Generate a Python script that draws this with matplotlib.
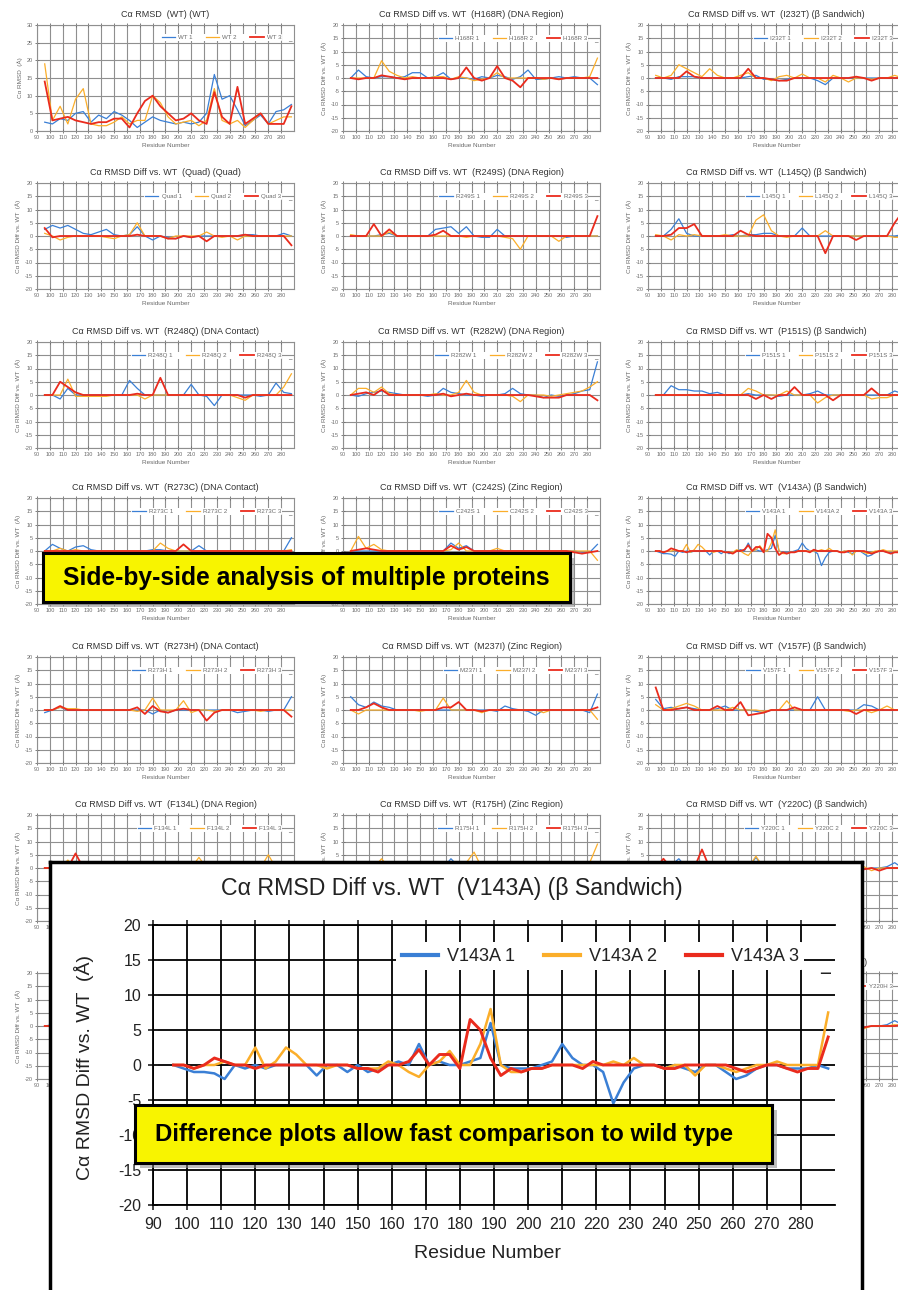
import matplotlib
matplotlib.use('Agg')
import matplotlib.pyplot as plt
from matplotlib.patches import Rectangle

plt.rcParams['axes.unicode_minus'] = False

# ---------------- data ----------------
res_small = list(range(96, 289, 6))   # 33 residues
res_big = list(range(96, 289, 3))     # 65 residues
xticks = list(range(90, 281, 10))

WT_1 = [2.5,2.0,3.5,3.0,5.0,5.5,2.5,4.5,3.5,5.5,4.5,3.0,1.0,2.5,4.0,3.0,2.5,2.0,2.5,2.0,2.5,5.0,16.0,9.0,10.0,6.0,1.5,3.0,4.5,2.0,5.5,6.0,7.5]
WT_2 = [19.0,3.0,7.0,2.0,9.0,12.0,2.0,1.5,1.5,2.5,4.0,2.0,3.0,3.0,10.0,8.0,4.0,2.0,2.5,3.0,1.5,3.0,12.0,3.0,2.0,3.0,1.0,3.0,5.0,2.0,3.0,4.0,4.0]
WT_3 = [14.0,3.0,3.5,4.0,3.0,2.5,2.0,2.5,2.5,3.5,3.5,1.0,5.0,8.5,10.0,7.0,5.0,3.0,3.5,5.0,3.0,2.0,11.0,4.0,2.0,12.5,2.0,3.5,5.0,2.0,2.0,2.0,7.0]

H168R_1 = [0,3,0.5,0,0.5,0.5,0,0.5,2,2,0,0.5,2,-0.5,0,0,-0.5,0.5,0,1,0.5,-0.5,0.5,3,-0.5,-0.5,0,0.5,0,0.5,0,0,-2.5]
H168R_2 = [0,0,0,0,6.5,2.5,1,0,0.5,0,0,0.5,0.5,-0.5,0.5,0,-1,-0.5,0,2,0,0,0,0,0,-0.5,0,-0.5,0,0,0,0.5,7.5]
H168R_3 = [0,-0.5,0,0,1,0.5,0,-0.5,0,0,0,0,0,-0.5,0,4,0,-1,0,4.5,0,-1,-3.5,0,0,0,0,-0.5,0,0,0,0,0]

I232T_1 = [0,0,-0.5,0.5,0.5,0.5,0,0,0,0,0,0,0.5,1,-0.5,-0.5,-1,-0.5,0,0,0,-1,-2.5,0,0,0,0,0,0,0,0,0,0]
I232T_2 = [1,0,1,5,3.5,2,0.5,3.5,1,0,0,1,2,0,0,-1,0.5,1,0,1.5,0,0,-1.5,1,0,-1.5,0,0,-0.5,0,0,1,0]
I232T_3 = [0,0,0,0,2.5,0.5,0,0,0,0,0,0,3.5,0,0,-0.5,-1,-1,0,0,0,0,0,0,0,0,0.5,0,-1,0,0,0,0]

Quad_1 = [2.5,4,3,4,2.5,1,0.5,1.5,2.5,0.5,0,0.5,3.5,0,-1.5,0,-0.5,-1,0,-0.5,0,0,0,0,0,0,0.5,0.5,0,0,0,1,0]
Quad_2 = [1,0,-1.5,-0.5,0,0,0,0,-0.5,-1,0,0.5,5,0,0,0,-1,0,0,0,0,1.5,0,-0.5,0,-1.5,0,0,0,0,0,0,0]
Quad_3 = [3,-0.5,0,0,0,0,0,0,0,0,0,0,0.5,0,0,0,-1,-1,0,-0.5,0,-2,0,0,0,0,0.5,0,0,0,0,0,-3.5]

R249S_1 = [0,0,0,0,0.5,1,0,0,0,0,0,2.5,3,3.5,1,3.5,0,-0.5,-0.5,2.5,0,0,0,0,0,0,0,0,-0.5,0,0,0,0]
R249S_2 = [0.5,0,0,0,0,1.5,0,0,0,0,0,0,0,0,0,-0.5,0,0,0,0,-0.5,-1,-5,0,0,0,0,-2,0,0,0,0,0]
R249S_3 = [0,0,0,4.5,0,2.5,0,0,0,0,0,0.5,2,0,0,0,0,0,0,0,0,0,0,0,0,0,0,0,0,0,0,0,7.5]

L145Q_1 = [0,0,2.5,6.5,1,0,0,0,0,0,0.5,0,0.5,0.5,1,1,0,0,0,3,0,0,0,0,0,0,0,0,0,0,0,0,0.5]
L145Q_2 = [0.5,0,-1.5,0.5,0,0.5,0,0,0,0.5,0,0,0,6,8,2,0,-0.5,0,0,0,0,2,0,0,0,0,0,0,0,0,-0.5,-0.5]
L145Q_3 = [0,0,0.5,3,3,4.5,0,0,0,0,0,2,0.5,0,0,0,0,0,0,0,0,0,-6.5,0,0,0,-1.5,0,0,0,0,5,9]

R248Q_1 = [0,0,-1.5,2.5,0,0,0,0,0,0,0,5.5,2.5,0,0,0,0,0,0,4,0,-0.5,-4,0,0,0,0,0,-0.5,0,4.5,1,0.5]
R248Q_2 = [0,0,0,6,-0.5,-0.5,-0.5,-0.5,-0.5,0,0,0,0,-1.5,0,0,0,0,0,0,0,0,0,0,0,-1,-2,0,0,0,0,3,8]
R248Q_3 = [0,0,5,3,1,0,0,0,0,0,0,0,0.5,0,0,6.5,0,0,0,0,0,0,0,0,0,0,-1,0,0,0,0,0,0]

R282W_1 = [0,-0.5,0.5,1,1.5,1,0.5,0,0,0,-0.5,0,2.5,1,0.5,0,0,-0.5,0,0,0.5,2.5,0.5,0,0,-1,0,-0.5,0,0.5,1.5,2,12.5]
R282W_2 = [0,2.5,2.5,1,3,0.5,0,0,0,0,0,0.5,0,0,1,5.5,1,0,0,0,0,-0.5,-2.5,0,0,0,-0.5,0,0.5,1,1.5,3,5]
R282W_3 = [0,0.5,1,0,2,0,0,0,0,0,0,0,0.5,-0.5,0,0.5,0,0,0,0,0,0,0,0,-0.5,-1,-1,-1,0,0,0,0,-2]

P151S_1 = [0,0,3.5,2,2,1.5,1.5,0.5,1,0,0,0,0.5,0,0,0,-0.5,0,0,0,0.5,1.5,0,0,0,0,0,0,0,0,0,1.5,0.5]
P151S_2 = [0,0,0,0,0,0,0,0,0,0,0,0,2.5,1.5,0,0,0,1.5,0,0,0,-3,-1,0,0,0,0,0,-1.5,-1,-1,0,0]
P151S_3 = [0,0,0,0,0,0,0,0,0,0,0,0,0,-1.5,0,-1.5,0,0,3,0,0,0,0,-2,0,0,0,0,2.5,0,0,0,0]

R273C_1 = [0,2.5,1,0,1.5,2,0.5,0,0,0,0,0,0,0,0.5,0.5,0,0,0,0,2,0,0,0,0,0,0,0,0,0,0,0,5]
R273C_2 = [0,0,1,0,0.5,0,0,0,0,0,0,0,0,0,0,3,1,0,0,0,0,0,0,0,0,0,0,0,0,0,0,0,0.5]
R273C_3 = [0,0,0,0,0,0,0,0,0,0,0,0,0,0,0,0,0,0,2.5,0,0,0,0,0,0,0,0,0,0,0,0,0,0]

C242S_1 = [0,0,0,0,0,0,0,0,0,0,0,0,0,3,1,2,0,0,0,0,0,0,0,0,0,0,0,0,0,0,-0.5,-0.5,2.5]
C242S_2 = [0,5.5,1,2.5,0.5,0,0,0,0,0,0,0,0,0.5,3,0,0,0,0,1,0,0,0,0,0,0,0,0,0,0,0,0,-3.5]
C242S_3 = [0,0.5,1,0.5,0,0,0,0,0,0,0,0,0,2,0.5,1.5,0,0,0,0,0,0,0,0,0,0,0,0,0,-0.5,-1,-0.5,0]

R273H_1 = [-1,0,1,0,0,0,0,0,0,0,0,0,0,0,-1.5,0,-1,0,0,0,0,0,0,0,0,-1,-0.5,0,0,-0.5,0,0,5]
R273H_2 = [0,0,1,0.5,0.5,0,0,0,0,0,0,0,-0.5,0,4.5,0,0,0,3.5,-1,0,0,-0.5,0,0,0,0,0,-0.5,0,0,0,0]
R273H_3 = [0,0,1.5,0,0,0,0,0,0,0,0,0,1,-1.5,1.5,-0.5,-1,0,0.5,0,0,-4,-1,0,0,0,0,0,0,0,0,0,-2.5]

M237I_1 = [5,2,1,3,1.5,1,0,0,0,0,0,0,0,0,0,0,0,0,0,-0.5,1.5,0.5,0,-0.5,-2,0,0,0,0,0,0,-1,6]
M237I_2 = [0,-1.5,0,0,0,0,0,0,0,-0.5,0,0,4.5,0,0,0,0,-1,0,0,0,0,0,0,0,-1,0,0,0,0,0,0,-3.5]
M237I_3 = [0,0,1,2.5,1,0,0,0,0,0,0,0,1,1,3,0,0,-0.5,0,0,0,0,0,0,0,0,0,0,0,0,0,0,1]

V157F_1 = [4,0.5,1,0.5,1,0.5,0,0,0.5,1.5,0,0,0,-0.5,-1,0,0,0,0,0,0,5,0,0,0,0,0,2,1.5,0,0,0,0]
V157F_2 = [2,0,0.5,1.5,2.5,1.5,0,0,0,0,1,0,0,0,-0.5,0,0,3.5,0,0,0,0,0,0,0,-0.5,0,0,-1,0,1.5,0,0]
V157F_3 = [8.5,0,0,0.5,1,0,0,0,1.5,0,0,3,-2,-1.5,-1,0,0,0,1,0,0,0,0,0,0,0,-1.5,0,0,0,0,0,0]

F134L_1 = [0,0,0,0,0,0,0,0,0,0,0,0,0,1.5,2.5,0,0,0,0,0,0,0,0,0,0,0,2,0,0,0,0,0,0]
F134L_2 = [0,0,0,3,0,0,0,0,0,0,0,0,0,0,0,0,0,0,0,0,4,0,0,0,0,0,0,0,0,5,0,0,0]
F134L_3 = [0,0,0,0,5.5,0,2,0,0,0,0,0,0,0,0,0,0,0,0,0,0,0,0,0,0,0,0,0,0,0,0,0,0]

R175H_1 = [0,0,0,0,0,0,0,0,0,0,0,0,0,3.5,0.5,0,0,0,0,0,0,0,0,0,0,0,0,0,0,0,0,0,1]
R175H_2 = [0,0,0,0,3.5,0,0,0,0,0,0,0,0,0,0,2,6,0,0,0,0,0,0,0,0,0,0,0,0,0,0,2,9]
R175H_3 = [0,0,0,0,0,0,0,0,0,0,0,0,0,0,0,0,0,0,0,0,0,0,1,0,0,0,0,0,0,0,0,0,0]

Y220C_1 = [0,0,1,3.5,0,0,0,0,0,0,0,0,0,4,0,0,0,0,0,0,0,0,0,0,0,0,0,-0.5,0,0,0.5,2,0]
Y220C_2 = [0,0,0,0,0,0,0,0,0,0,0,0,0,4.5,0,0,0,0,0,0,0,0,0,0,0,0,0,0.5,-1,0,0,0,0]
Y220C_3 = [0,3.5,0,0,0,0,7,0,0,0,0,1,0,0,0,0,0,0,0,0,0,0,0,0,0,0,0,-0.5,0,-1,0,0,0]

G245S_1 = [0,0.5,0,0,0,1,0,0,0,0,0,0,0,0,0,0,0,0,0,0,0,0,0,0,0,0,0,0,0,0,0,0,0]
G245S_2 = [0,0,0.5,0,0,0,0,0,0,0,0,0,0,0,0,0,0,0,0,0,0,0,0,0,0,0,0,0,0,0,0,0,0]
G245S_3 = [0,0,0,0.5,0,0,0,0,0,0,0,0,0,0,0,0,0,0,0,0,0,0,0,0,0,0,0,0,0,0,0,0,0]

R248W_1 = [0,0,0,0,1,0,0,0,0,0,0,0,0,0,0,0,0,0,0,0,0,0,0,0,0,0,0,0,0,0,0,0,0]
R248W_2 = [0,0,0,0,0,0,0,0,0,0,0,0,0,0,0,0,0,0,0,0,0,0,0,0,0,0,0,0,0,0,0,0,0]
R248W_3 = [0,0,0,0,0,0,0,0,0,0,0,0,0,0,0,0,0,0,0,0,0,0,0,0,0,0,0,0,0,0,0,0,0]

Y220H_1 = [0,0,0,0,0,0,0,0,0,0,0,0,0,0,0,0,0,0,0,0,0,0,0,0,0,0,0,-0.5,0,0,0.5,2,0.5]
Y220H_2 = [0,0,0,0,0,0,0,0,0,0,0,0,0,0,0,0,0,0,0,0,0,0,0,0,0,0,0,-1,0,0,0,0.5,0]
Y220H_3 = [0,0,0,0,0,0,0,0,0,0,0,0,0,0,0,0,0,0,0,0,0,0,0,0,0,0,-0.5,-0.5,0,0,0,0,0.5]

V143A_1 = [0,-0.5,-1,-1,-1.2,-2,0,-0.5,0,-0.5,0,0,0,0,-1.5,0,0,-1,0,-1,-0.5,0,0.5,0,3,0,0.5,0,0,0.5,1,6,0,-0.5,-0.5,-0.5,0,0.5,3,1,0,0,-1,-5.5,-2.5,-0.5,0,0,-0.5,0,-0.5,-1,0,0,-1,-2,-1.5,-0.5,0,0,-0.5,-0.5,-0.5,0,-0.5]
V143A_2 = [0,0,-0.5,0,0,0.5,0,0,2.5,-0.5,0.5,2.5,1.5,0,0,-0.5,0,0,-0.5,-0.5,-0.5,0.5,0,-1,-1.7,0,0.5,2,0,0,3,8,0,-1,-1,-0.5,-0.5,0,0,0,0,0,0,0.5,0,1,0,0,-0.5,0,0,-1.5,0,0,-0.5,-1,-0.5,0,0,0.5,0,0,0,0,7.5]
V143A_3 = [0,0,-0.5,0,1,0.5,0,0,-0.5,0,0,0,0,0,0,0,0,0,-0.5,-0.5,-1,0,0,0.5,2.2,0,1.5,1.5,-0.5,6.5,5,1,-1.5,-0.5,-1,-0.5,-0.5,0,0,0,-0.5,0.5,0,0,0,0,0,0,-0.5,-0.5,0,0,0,0,0,-0.5,-1,-0.5,0,0,-0.5,-1,-0.5,-0.5,4]

# (mutant, region, series 1..3, residues)
panels = [
    ("WT", "WT", WT_1, WT_2, WT_3, res_small),
    ("H168R", "DNA Region", H168R_1, H168R_2, H168R_3, res_small),
    ("I232T", "β Sandwich", I232T_1, I232T_2, I232T_3, res_small),
    ("Quad", "Quad", Quad_1, Quad_2, Quad_3, res_small),
    ("R249S", "DNA Region", R249S_1, R249S_2, R249S_3, res_small),
    ("L145Q", "β Sandwich", L145Q_1, L145Q_2, L145Q_3, res_small),
    ("R248Q", "DNA Contact", R248Q_1, R248Q_2, R248Q_3, res_small),
    ("R282W", "DNA Region", R282W_1, R282W_2, R282W_3, res_small),
    ("P151S", "β Sandwich", P151S_1, P151S_2, P151S_3, res_small),
    ("R273C", "DNA Contact", R273C_1, R273C_2, R273C_3, res_small),
    ("C242S", "Zinc Region", C242S_1, C242S_2, C242S_3, res_small),
    ("V143A", "β Sandwich", V143A_1, V143A_2, V143A_3, res_big),
    ("R273H", "DNA Contact", R273H_1, R273H_2, R273H_3, res_small),
    ("M237I", "Zinc Region", M237I_1, M237I_2, M237I_3, res_small),
    ("V157F", "β Sandwich", V157F_1, V157F_2, V157F_3, res_small),
    ("F134L", "DNA Region", F134L_1, F134L_2, F134L_3, res_small),
    ("R175H", "Zinc Region", R175H_1, R175H_2, R175H_3, res_small),
    ("Y220C", "β Sandwich", Y220C_1, Y220C_2, Y220C_3, res_small),
    ("G245S", "Zinc Region", G245S_1, G245S_2, G245S_3, res_small),
    ("R248W", "DNA Contact", R248W_1, R248W_2, R248W_3, res_small),
    ("Y220H", "β Sandwich", Y220H_1, Y220H_2, Y220H_3, res_small),
]

CALLOUT_1 = "Side-by-side analysis of multiple proteins"
CALLOUT_2 = "Difference plots allow fast comparison to wild type"
BIG_TITLE = "Cα RMSD Diff vs. WT  (V143A) (β Sandwich)"

# ---------------- style ----------------
W, H = 898, 1290
BLUE, ORANGE, RED = '#3a7fd5', '#fbae2a', '#ea2b1d'
COLORS = [BLUE, ORANGE, RED]
SANS = ['Liberation Sans', 'DejaVu Sans']

fig = plt.figure(figsize=(W / 100, H / 100), dpi=100)
fig.patch.set_facecolor('white')


def rect(l, t, r, b):
    return [l / W, 1 - b / H, (r - l) / W, (b - t) / H]


col_left = [37, 343, 648]
col_w = 257
row_top = [25, 183, 342, 498, 657, 815, 973]
row_h = 106

GRID_SMALL = '#8f8f8f'
for i, (mut, region, s1, s2, s3, res) in enumerate(panels):
    r, c = divmod(i, 3)
    l, t = col_left[c], row_top[r]
    ax = fig.add_axes(rect(l, t, l + col_w, t + row_h), zorder=1)
    wt = mut == "WT"
    ax.set_xlim(90, 290)
    if wt:
        ax.set_ylim(0, 30)
        ax.set_yticks(list(range(0, 31, 5)))
        title = "Cα RMSD  (WT) (WT)"
        ylab = "Cα RMSD  (Å)"
        ly = 0.885
    else:
        ax.set_ylim(-20, 20)
        ax.set_yticks(list(range(-20, 21, 5)))
        title = f"Cα RMSD Diff vs. WT  ({mut}) ({region})"
        ylab = "Cα RMSD Diff vs. WT  (Å)"
        ly = 0.875
    ax.set_xticks(xticks)
    ax.grid(True, color=GRID_SMALL, lw=0.8)
    ax.set_axisbelow(True)
    for sp in ax.spines.values():
        sp.set_color(GRID_SMALL)
        sp.set_linewidth(0.8)
    ax.tick_params(labelsize=4.0, colors='#6a6a6a', length=2.5, width=0.6,
                   direction='inout', top=True, pad=1.5)
    for lab in ax.get_xticklabels() + ax.get_yticklabels():
        lab.set_family(SANS)
    handles = []
    for k, (s, col) in enumerate(zip((s1, s2, s3), COLORS)):
        h, = ax.plot(res, s, color=col, lw=1.3 if k == 2 else 0.9, zorder=3 + k)
        handles.append(h)
    ax.set_title(title, fontsize=6.5, color='#333333', pad=6, family=SANS)
    ax.set_ylabel(ylab, fontsize=4.6, color='#6a6a6a', labelpad=3, family=SANS)
    ax.set_xlabel("Residue Number", fontsize=4.6, color='#6a6a6a', labelpad=2, family=SANS)
    leg = ax.legend(handles, [f"{mut} 1", f"{mut} 2", f"{mut} 3"], ncol=3,
                    loc='center right', bbox_to_anchor=(0.955, ly), fontsize=4.4,
                    frameon=True, facecolor='white', edgecolor='none', framealpha=1,
                    handlelength=2.2, columnspacing=2.2, borderpad=0.15,
                    handletextpad=0.5, borderaxespad=0)
    for tx in leg.get_texts():
        tx.set_color('#6a6a6a')
        tx.set_family(SANS)
    if c < 2:
        ax.text(0.985, ly - 0.02, "_", transform=ax.transAxes, fontsize=5,
                color='#555555', ha='center', va='center', zorder=10)

# ---------------- big inset box ----------------
box = fig.add_axes(rect(50, 862, 862, 1292), zorder=5)
box.set_xticks([]); box.set_yticks([])
box.set_facecolor('white')
for sp in box.spines.values():
    sp.set_linewidth(2.5)
    sp.set_color('black')

bx = fig.add_axes(rect(153, 925, 835, 1205), zorder=6)
bx.set_facecolor('none')
bx.set_xlim(90, 290)
bx.set_ylim(-20, 20)
bx.set_xticks(xticks)
bx.set_yticks(list(range(-20, 21, 5)))
bx.grid(True, color='black', lw=1.3)
bx.set_axisbelow(True)
for sp in bx.spines.values():
    sp.set_color('black'); sp.set_linewidth(1.3)
bx.spines['right'].set_visible(False)
bx.tick_params(labelsize=11.5, colors='#222222', length=7, width=1.2,
               direction='inout', top=True, pad=5)
for lab in bx.get_xticklabels() + bx.get_yticklabels():
    lab.set_family(SANS)
    lab.set_color('#222222')
bh = []
for k, (s, col) in enumerate(zip((V143A_1, V143A_2, V143A_3), COLORS)):
    h, = bx.plot(res_big, s, color=col, lw=2.1 if k == 2 else 1.8, zorder=3 + k)
    bh.append(h)
bleg = bx.legend(bh, ["V143A 1", "V143A 2", "V143A 3"], ncol=3, loc='center right',
                 bbox_to_anchor=(0.955, 0.888), fontsize=13, frameon=True,
                 facecolor='white', edgecolor='none', framealpha=1,
                 handlelength=2.0, columnspacing=1.6, handletextpad=0.5,
                 borderpad=0.3, borderaxespad=0)
for tx in bleg.get_texts():
    tx.set_family(SANS); tx.set_color('#222222')
for lh in bleg.get_lines():
    lh.set_linewidth(3)
bx.text(0.986, 0.86, "_", transform=bx.transAxes, fontsize=14, color='#222222',
        ha='center', va='center', zorder=10)

t_title = fig.text(452 / W, 1 - 888 / H, BIG_TITLE, fontsize=17, family=SANS,
                   color='#222222', ha='center', va='center', zorder=7)
fig.text(84 / W, 1 - 1068 / H, "Cα RMSD Diff vs. WT  (Å)", rotation=90,
         fontsize=14, family=SANS, color='#222222', ha='center', va='center', zorder=7)
fig.text(488 / W, 1 - 1254 / H, "Residue Number", fontsize=14, family=SANS,
         color='#222222', ha='center', va='center', zorder=7)

# ---------------- callouts ----------------
def callout(l, t, r, b, text, fs):
    sh = fig.add_axes(rect(l + 5, t + 5, r + 5, b + 5), zorder=8)
    sh.set_axis_off()
    sh.add_patch(Rectangle((0, 0), 1, 1, transform=sh.transAxes,
                           facecolor='#8a8a8a', alpha=0.55, edgecolor='none'))
    a = fig.add_axes(rect(l, t, r, b), zorder=9)
    a.set_xticks([]); a.set_yticks([])
    a.set_facecolor('#f8f400')
    for sp in a.spines.values():
        sp.set_linewidth(2.2); sp.set_color('black')
    return a.text(0.5, 0.5, text, transform=a.transAxes, ha='center', va='center',
                  fontsize=fs, fontweight='bold', family=SANS, color='black')

c1 = callout(43, 553, 570, 602, CALLOUT_1, 18)
c2 = callout(135, 1105, 772, 1163, CALLOUT_2, 18)
c2.set_x(0.485)

# fit text widths to the reference layout
fig.canvas.draw()
renderer = fig.canvas.get_renderer()
for txt, target in ((c1, 486), (c2, 580), (t_title, 465)):
    w = txt.get_window_extent(renderer=renderer).width
    txt.set_fontsize(txt.get_fontsize() * target / w)

fig.savefig("out.png", dpi=100, facecolor='white')
